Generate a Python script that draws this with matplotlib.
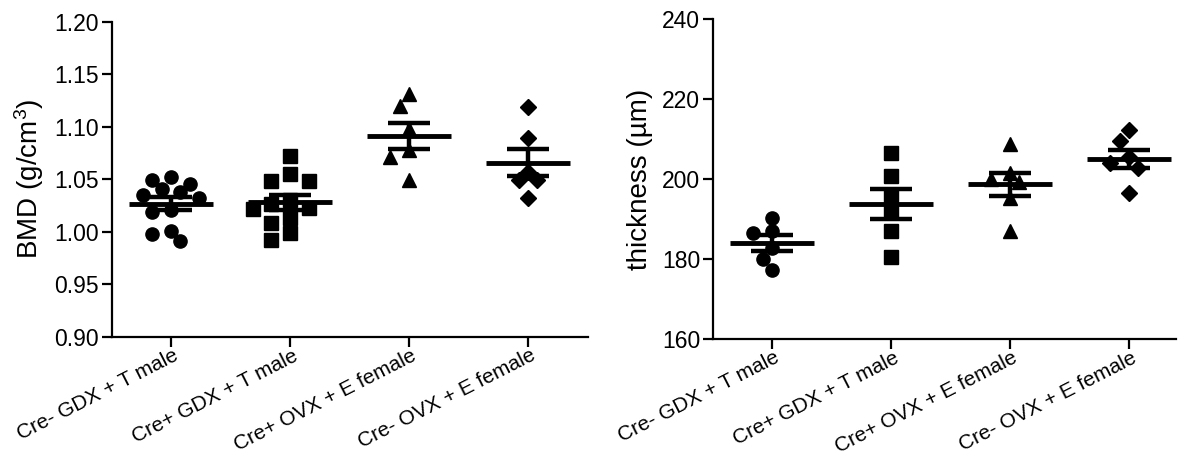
import numpy as np
import matplotlib
matplotlib.use("Agg")
import matplotlib.pyplot as plt

plt.rcParams['font.family'] = ['Liberation Sans', 'DejaVu Sans']
plt.rcParams['mathtext.default'] = 'regular'

# group labels (same for both panels)
groups = ["Cre- GDX + T male", "Cre+ GDX + T male",
          "Cre+ OVX + E female", "Cre- OVX + E female"]
markers = ["o", "s", "^", "D"]

# BMD (g/cm3), one list per group
bmd_cre_neg_gdx = [1.052, 1.049, 1.046, 1.041, 1.038, 1.035, 1.032,
                   1.021, 1.019, 1.001, 0.998, 0.991]
bmd_cre_pos_gdx = [1.072, 1.055, 1.048, 1.048, 1.030, 1.027, 1.023,
                   1.022, 1.013, 1.008, 0.999, 0.992]
bmd_cre_pos_ovx = [1.131, 1.120, 1.098, 1.078, 1.071, 1.049]
bmd_cre_neg_ovx = [1.119, 1.089, 1.057, 1.049, 1.049, 1.032]

# thickness (um), one list per group
thk_cre_neg_gdx = [190.3, 187.1, 186.7, 182.8, 180.1, 177.3]
thk_cre_pos_gdx = [206.6, 200.8, 196.1, 191.9, 187.2, 180.5]
thk_cre_pos_ovx = [208.9, 201.7, 200.0, 199.3, 195.3, 187.2]
thk_cre_neg_ovx = [212.3, 209.6, 205.6, 204.0, 202.8, 196.7]

bmd = [bmd_cre_neg_gdx, bmd_cre_pos_gdx, bmd_cre_pos_ovx, bmd_cre_neg_ovx]
thk = [thk_cre_neg_gdx, thk_cre_pos_gdx, thk_cre_pos_ovx, thk_cre_neg_ovx]

W, H = 1184, 457
fig = plt.figure(figsize=(W / 100, H / 100), dpi=100)

# axes boxes in pixels
ax1 = fig.add_axes([111.5 / W, 1 - 337 / H, 476 / W, 315.3 / H])
ax2 = fig.add_axes([712.5 / W, 1 - 339.3 / H, 463.5 / W, 320 / H])


def swarm(ax, x0, vals, diam_px):
    # simple beeswarm: horizontal offsets so markers do not overlap (pixels)
    pts = ax.transData.transform(np.column_stack([np.full(len(vals), x0), vals]))
    step = diam_px * 0.72
    placed = []
    xs = []
    for (px, py) in pts:
        cands = [0]
        for i in range(1, 6):
            cands += [-i * step, i * step]
        for c in cands:
            if all(np.hypot(c - qx, py - qy) >= diam_px * 0.95 for qx, qy in placed):
                break
        placed.append((c, py))
        xs.append(px + c)
    xy = np.column_stack([xs, pts[:, 1]])
    return ax.transData.inverted().transform(xy)[:, 0]


def panel(ax, data, ylim, yticks, fmt, ylabel, xmax):
    ax.set_xlim(-0.5, xmax)
    ax.set_ylim(*ylim)
    ax.set_yticks(yticks)
    ax.set_yticklabels([fmt.format(t) for t in yticks], fontsize=16.5)
    ax.set_xticks(range(len(groups)))
    ax.set_xticklabels([])
    # rotated category labels hung under each tick
    for i, g in enumerate(groups):
        ax.annotate(g, xy=(i, 0), xycoords=ax.get_xaxis_transform(),
                    xytext=(2, -9), textcoords='offset pixels',
                    rotation=27, ha='right', va='top',
                    rotation_mode='anchor', fontsize=15)
    ax.set_ylabel(ylabel, fontsize=20, labelpad=6)
    for s in ["top", "right"]:
        ax.spines[s].set_visible(False)
    for s in ["left", "bottom"]:
        ax.spines[s].set_linewidth(1.6)
    ax.tick_params(width=1.6, length=7, direction='out', pad=2)

    for i, vals in enumerate(data):
        vals = np.asarray(vals)
        m = vals.mean()
        sem = vals.std(ddof=1) / np.sqrt(len(vals))
        xs = swarm(ax, i, vals, 13)
        ax.plot(xs, vals, linestyle='none', marker=markers[i], color='black',
                markersize=9.5 if markers[i] != 'D' else 8, zorder=3)
        ax.hlines(m, i - 0.35, i + 0.35, color='black', linewidth=3.5, zorder=4)
        ax.errorbar(i, m, yerr=sem, color='black', elinewidth=3.2,
                    capsize=15, capthick=3.2, zorder=4)


panel(ax1, bmd, (0.90, 1.20), np.arange(0.90, 1.2001, 0.05), "{:.2f}",
      "BMD (g/cm$^3$)", 3.5)
panel(ax2, thk, (160, 240), [160, 180, 200, 220, 240], "{:.0f}",
      "thickness (µm)", 3.395)

fig.savefig("out.png", dpi=100)
